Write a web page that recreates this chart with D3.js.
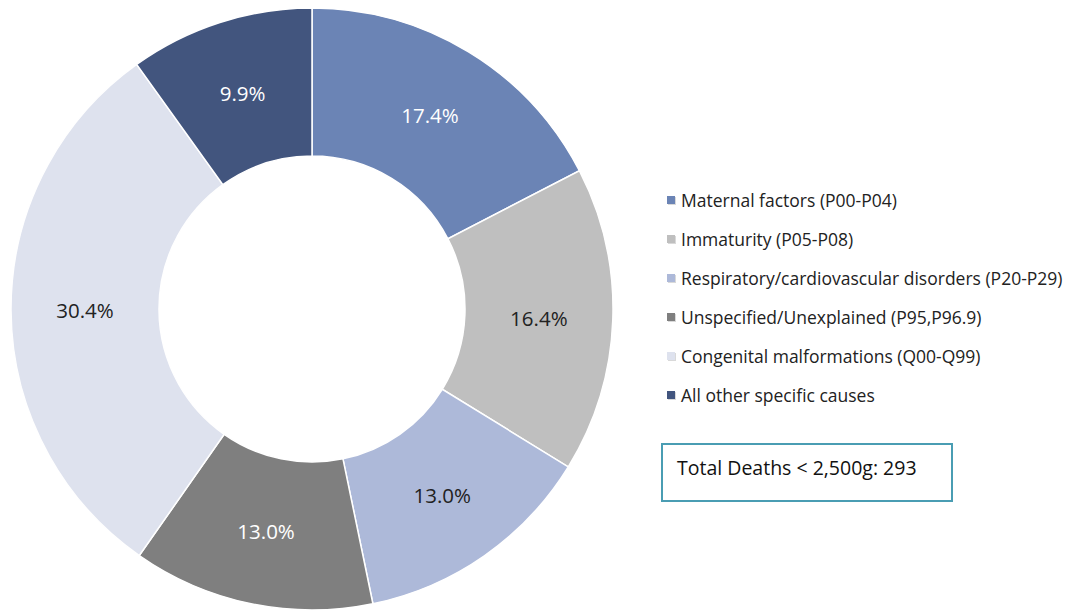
<!DOCTYPE html>
<html>
<head>
<meta charset="utf-8">
<script src="https://cdn.jsdelivr.net/npm/d3@7"></script>
<style>
  body { margin: 0; background: #fff; }
  svg { display: block; font-family: "Open Sans", Lato, sans-serif; }
</style>
</head>
<body>
<svg id="chart" width="1075" height="612"></svg>
<script>
// causes of death, counts (of 293 total)
const categories = [
  "Maternal factors (P00-P04)",
  "Immaturity (P05-P08)",
  "Respiratory/cardiovascular disorders (P20-P29)",
  "Unspecified/Unexplained (P95,P96.9)",
  "Congenital malformations (Q00-Q99)",
  "All other specific causes"
]
const deaths = [51, 48, 38, 38, 89, 29]
const colors = ["#6b84b5", "#bfbfbf", "#adb9d9", "#7f7f7f", "#dee2ee", "#42557e"]
const labelColors = ["#fff", "#222", "#222", "#fff", "#222", "#fff"]
const totalText = "Total Deaths < 2,500g: 293"

const svg = d3.select("#chart")
const cx = 312, cy = 309
const outerR = 301, innerR = 153

const total = d3.sum(deaths)
const data = categories.map((c, i) => ({cat: c, value: deaths[i], i: i}))

const pie = d3.pie().value(d => d.value).sort(null)
const arc = d3.arc().innerRadius(innerR).outerRadius(outerR)
const labelArc = d3.arc().innerRadius(227).outerRadius(227)

const g = svg.append("g").attr("transform", `translate(${cx},${cy})`)

const arcs = pie(data)

g.selectAll("path.slice")
  .data(arcs)
  .join("path")
  .attr("class", "slice")
  .attr("d", arc)
  .attr("fill", d => colors[d.data.i])
  .attr("stroke", "#fff")
  .attr("stroke-width", 1.5)

const fmt = d3.format(".1%")
g.selectAll("text.lbl")
  .data(arcs)
  .join("text")
  .attr("class", "lbl")
  .attr("transform", d => `translate(${labelArc.centroid(d)})`)
  .attr("text-anchor", "middle")
  .attr("dominant-baseline", "central")
  .attr("font-size", 20.5)
  .attr("fill", d => labelColors[d.data.i])
  .text(d => fmt(d.data.value / total))

// legend
const legend = svg.append("g").attr("transform", "translate(667,200)")
const rowH = 39
const item = legend.selectAll("g.item")
  .data(data)
  .join("g")
  .attr("class", "item")
  .attr("transform", (d, i) => `translate(0,${i * rowH})`)

item.append("rect")
  .attr("x", 1).attr("y", -3)
  .attr("width", 8).attr("height", 8)
  .attr("fill", "#d9d9d9")
item.append("rect")
  .attr("x", 0).attr("y", -4)
  .attr("width", 8).attr("height", 8)
  .attr("fill", d => colors[d.i])
item.append("text")
  .attr("x", 14)
  .attr("y", 0)
  .attr("dominant-baseline", "central")
  .attr("font-size", 17.5)
  .attr("fill", "#222")
  .text(d => d.cat)

// total box
svg.append("rect")
  .attr("x", 662).attr("y", 444)
  .attr("width", 290).attr("height", 57)
  .attr("fill", "#fff")
  .attr("stroke", "#4a9db3")
  .attr("stroke-width", 2)
svg.append("text")
  .attr("x", 677).attr("y", 467)
  .attr("dominant-baseline", "central")
  .attr("font-size", 19.5)
  .attr("fill", "#111")
  .text(totalText)
</script>
</body>
</html>
